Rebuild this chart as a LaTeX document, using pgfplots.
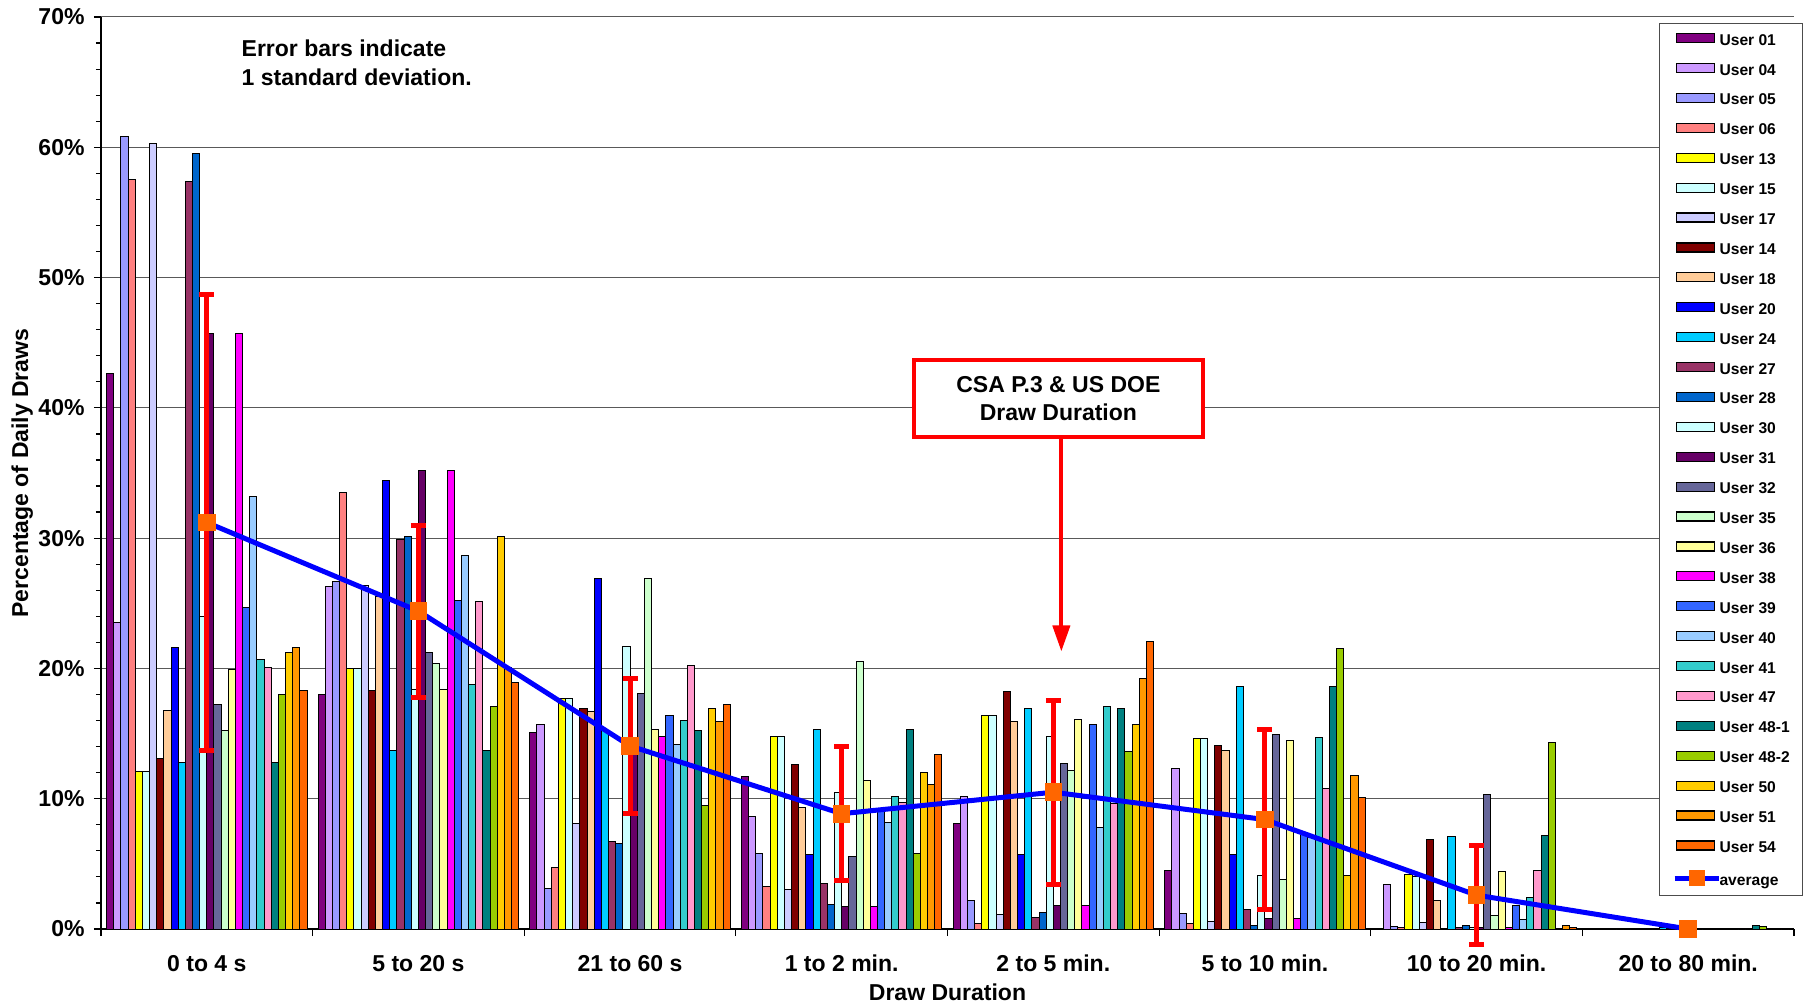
\documentclass[border=0pt]{standalone}
\usepackage{pgfplots}
\pgfplotsset{compat=1.18}
\usepackage{pgfplotstable}
\usepackage{fontspec}
\setmainfont{Liberation Sans}
\usetikzlibrary{calc,arrows.meta}

\definecolor{c01}{HTML}{800080}
\definecolor{c04}{HTML}{CC99FF}
\definecolor{c05}{HTML}{9999FF}
\definecolor{c06}{HTML}{FF8080}
\definecolor{c13}{HTML}{FFFF00}
\definecolor{c15}{HTML}{CCFFFF}
\definecolor{c17}{HTML}{CCCCFF}
\definecolor{c14}{HTML}{800000}
\definecolor{c18}{HTML}{FFCC99}
\definecolor{c20}{HTML}{0000FF}
\definecolor{c24}{HTML}{00CCFF}
\definecolor{c27}{HTML}{993366}
\definecolor{c28}{HTML}{0066CC}
\definecolor{c30}{HTML}{CCFFFF}
\definecolor{c31}{HTML}{660066}
\definecolor{c32}{HTML}{666699}
\definecolor{c35}{HTML}{CCFFCC}
\definecolor{c36}{HTML}{FFFF99}
\definecolor{c38}{HTML}{FF00FF}
\definecolor{c39}{HTML}{3366FF}
\definecolor{c40}{HTML}{99CCFF}
\definecolor{c41}{HTML}{33CCCC}
\definecolor{c47}{HTML}{FF99CC}
\definecolor{c481}{HTML}{008080}
\definecolor{c482}{HTML}{99CC00}
\definecolor{c50}{HTML}{FFCC00}
\definecolor{c51}{HTML}{FF9900}
\definecolor{c54}{HTML}{FF6600}
\definecolor{avgblue}{HTML}{0000FF}
\definecolor{avgorange}{HTML}{FF6600}

\pgfplotstableread{
x u01 u04 u05 u06 u13 u15 u17 u14 u18 u20 u24 u27 u28 u30 u31 u32 u35 u36 u38 u39 u40 u41 u47 u481 u482 u50 u51 u54
0 42.6 23.5 60.8 57.5 12.1 12.1 60.3 13.1 16.8 21.6 12.8 57.4 59.5 24.0 45.7 17.2 15.2 19.9 45.7 24.7 33.2 20.7 20.1 12.8 18.0 21.2 21.6 18.3
1 18.0 26.3 26.7 33.5 20.0 20.0 26.4 18.3 25.5 34.4 13.7 29.9 30.1 18.4 35.2 21.2 20.4 18.4 35.2 25.2 28.7 18.8 25.1 13.7 17.1 30.1 20.1 18.9
2 15.1 15.7 3.1 4.7 17.7 17.7 8.1 16.9 16.7 26.9 15.2 6.7 6.6 21.7 14.0 18.1 26.9 15.3 14.8 16.4 14.2 16.0 20.2 15.2 9.5 16.9 15.9 17.2
3 11.7 8.6 5.8 3.3 14.8 14.8 3.0 12.6 9.3 5.7 15.3 3.5 1.9 10.5 1.7 5.6 20.5 11.4 1.7 9.1 8.2 10.2 9.7 15.3 5.8 12.0 11.1 13.4
4 8.1 10.2 2.2 0.4 16.4 16.4 1.1 18.2 15.9 5.7 16.9 0.9 1.3 14.8 1.8 12.7 12.2 16.1 1.8 15.7 7.8 17.1 9.6 16.9 13.6 15.7 19.2 22.1
5 4.5 12.3 1.2 0.4 14.6 14.6 0.6 14.1 13.7 5.7 18.6 1.5 0.3 4.1 0.8 14.9 3.8 14.5 0.8 7.3 7.0 14.7 10.8 18.6 21.5 4.1 11.8 10.1
6 0.0 3.4 0.2 0.15 4.2 4.0 0.5 6.9 2.2 0.05 7.1 0.15 0.3 0.1 0.1 10.3 1.0 4.4 0.1 1.8 0.7 2.4 4.5 7.2 14.3 0.05 0.3 0.1
7 0 0 0.05 0.05 0 0 0 0 0 0 0.1 0 0 0 0 0 0 0.05 0 0 0 0 0 0.3 0.2 0 0 0
}\bardata

\pgfplotstableread{
x y e
0 31.2 17.5
1 24.4 6.6
2 14.05 5.2
3 8.85 5.15
4 10.5 7.05
5 8.4 6.9
6 2.6 3.8
7 0.0 0.0
}\avgdata

\pgfplotsset{
  B/.style 2 args={ybar, bar width=3.58pt, bar shift=#1pt, fill=#2, draw=black, line width=0.5pt,
    legend image code/.code={\draw[fill=#2, draw=black, line width=0.6pt] (0pt,-1.5pt) rectangle (19pt,3pt);}},
}

\begin{document}
\begin{tikzpicture}
\begin{axis}[
  scale only axis,
  width=846.5pt, height=456pt,
  xmin=-0.5, xmax=7.5,
  ymin=0, ymax=70,
  clip=false,
  axis x line*=bottom, axis y line*=left,
  axis line style={black, line width=0.8pt},
  tick align=outside,
  major tick length=3.5pt, minor tick length=2.5pt,
  tick style={black, line width=0.6pt},
  xtick={-0.5,0.5,...,7.5}, xticklabels={},
  extra x ticks={0,1,...,7},
  extra x tick labels={0 to 4 s, 5 to 20 s, 21 to 60 s, 1 to 2 min., 2 to 5 min., 5 to 10 min., 10 to 20 min., 20 to 80 min.},
  extra x tick style={major tick length=0pt, grid=none},
  ytick={0,10,...,70},
  minor y tick num=4,
  yticklabel={\pgfmathprintnumber{\tick}\%},
  /pgf/number format/assume math mode=true,
  tick label style={font=\bfseries\fontsize{11.5}{13}\selectfont},
  xticklabel style={yshift=-9.6pt},
  yticklabel style={xshift=-1.2pt},
  ymajorgrids,
  grid style={black!65, line width=0.5pt},
  xlabel={Draw Duration},
  ylabel={Percentage of Daily Draws},
  label style={font=\bfseries\fontsize{11.5}{13}\selectfont},
  xlabel style={at={(axis description cs:0.5,0)}, anchor=center, yshift=-31.5pt},
  ylabel style={at={(axis description cs:-0.0465,0.5)}, anchor=center},
  legend cell align=left,
  legend style={at={(0.920,0.9934)}, anchor=north west,
    draw=black!70, line width=0.6pt, fill=white,
    font=\bfseries\fontsize{7.8}{9}\selectfont,
    inner xsep=6.5pt, inner ysep=4.7pt,
    row sep=8.9pt, column sep=-0.8pt,
    nodes={inner sep=0pt, text height=5.5pt, text depth=0pt}},
]
\coordinate (SW) at (rel axis cs:0,0);
\coordinate (NE) at (rel axis cs:1,1);

\addplot[B={-48.33}{c01}] table[x=x,y=u01]{\bardata}; \addlegendentry{User 01}
\addplot[B={-44.75}{c04}] table[x=x,y=u04]{\bardata}; \addlegendentry{User 04}
\addplot[B={-41.17}{c05}] table[x=x,y=u05]{\bardata}; \addlegendentry{User 05}
\addplot[B={-37.59}{c06}] table[x=x,y=u06]{\bardata}; \addlegendentry{User 06}
\addplot[B={-34.01}{c13}] table[x=x,y=u13]{\bardata}; \addlegendentry{User 13}
\addplot[B={-30.43}{c15}] table[x=x,y=u15]{\bardata}; \addlegendentry{User 15}
\addplot[B={-26.85}{c17}] table[x=x,y=u17]{\bardata}; \addlegendentry{User 17}
\addplot[B={-23.27}{c14}] table[x=x,y=u14]{\bardata}; \addlegendentry{User 14}
\addplot[B={-19.69}{c18}] table[x=x,y=u18]{\bardata}; \addlegendentry{User 18}
\addplot[B={-16.11}{c20}] table[x=x,y=u20]{\bardata}; \addlegendentry{User 20}
\addplot[B={-12.53}{c24}] table[x=x,y=u24]{\bardata}; \addlegendentry{User 24}
\addplot[B={-8.95}{c27}] table[x=x,y=u27]{\bardata}; \addlegendentry{User 27}
\addplot[B={-5.37}{c28}] table[x=x,y=u28]{\bardata}; \addlegendentry{User 28}
\addplot[B={-1.79}{c30}] table[x=x,y=u30]{\bardata}; \addlegendentry{User 30}
\addplot[B={1.79}{c31}] table[x=x,y=u31]{\bardata}; \addlegendentry{User 31}
\addplot[B={5.37}{c32}] table[x=x,y=u32]{\bardata}; \addlegendentry{User 32}
\addplot[B={8.95}{c35}] table[x=x,y=u35]{\bardata}; \addlegendentry{User 35}
\addplot[B={12.53}{c36}] table[x=x,y=u36]{\bardata}; \addlegendentry{User 36}
\addplot[B={16.11}{c38}] table[x=x,y=u38]{\bardata}; \addlegendentry{User 38}
\addplot[B={19.69}{c39}] table[x=x,y=u39]{\bardata}; \addlegendentry{User 39}
\addplot[B={23.27}{c40}] table[x=x,y=u40]{\bardata}; \addlegendentry{User 40}
\addplot[B={26.85}{c41}] table[x=x,y=u41]{\bardata}; \addlegendentry{User 41}
\addplot[B={30.43}{c47}] table[x=x,y=u47]{\bardata}; \addlegendentry{User 47}
\addplot[B={34.01}{c481}] table[x=x,y=u481]{\bardata}; \addlegendentry{User 48-1}
\addplot[B={37.59}{c482}] table[x=x,y=u482]{\bardata}; \addlegendentry{User 48-2}
\addplot[B={41.17}{c50}] table[x=x,y=u50]{\bardata}; \addlegendentry{User 50}
\addplot[B={44.75}{c51}] table[x=x,y=u51]{\bardata}; \addlegendentry{User 51}
\addplot[B={48.33}{c54}] table[x=x,y=u54]{\bardata}; \addlegendentry{User 54}

\addplot[avgblue, line width=2.5pt, mark=square*, mark size=4.15pt,
  mark options={fill=avgorange, draw=avgorange, line width=0pt},
  legend image code/.code={\draw[avgblue, line width=2.5pt] (-1pt,0.75pt) -- (21pt,0.75pt);
     \fill[avgorange] (7.4pt,-2pt) rectangle (13.1pt,3.5pt);},
  error bars/.cd, y dir=both, y explicit,
  error bar style={red, line width=2.5pt},
  error mark options={red, line width=2.5pt, mark size=3.75pt, rotate=90}]
  table[x=x, y=y, y error=e]{\avgdata};
\addlegendentry{average}

\node[anchor=north west, align=left, inner sep=0pt, font=\bfseries\fontsize{11.5}{14.4}\selectfont]
  at (axis cs:0.163,68.3) {Error bars indicate\\1 standard deviation.};
\node[draw=red, line width=2pt, fill=white, minimum width=144.5pt, minimum height=38.5pt,
  align=center, font=\bfseries\fontsize{11.5}{13.8}\selectfont]
  at (axis cs:4.024,40.73) {CSA P.3 \& US DOE\\Draw Duration};
\draw[red, line width=2pt, -{Triangle[width=8.5pt,length=13pt]}]
  (axis cs:4.038,37.8) -- (axis cs:4.038,21.3);
\end{axis}
\pgfresetboundingbox
\path ($(SW)+(-50.5pt,-37pt)$) rectangle ($(NE)+(4.5pt,8.5pt)$);
\end{tikzpicture}
\end{document}
